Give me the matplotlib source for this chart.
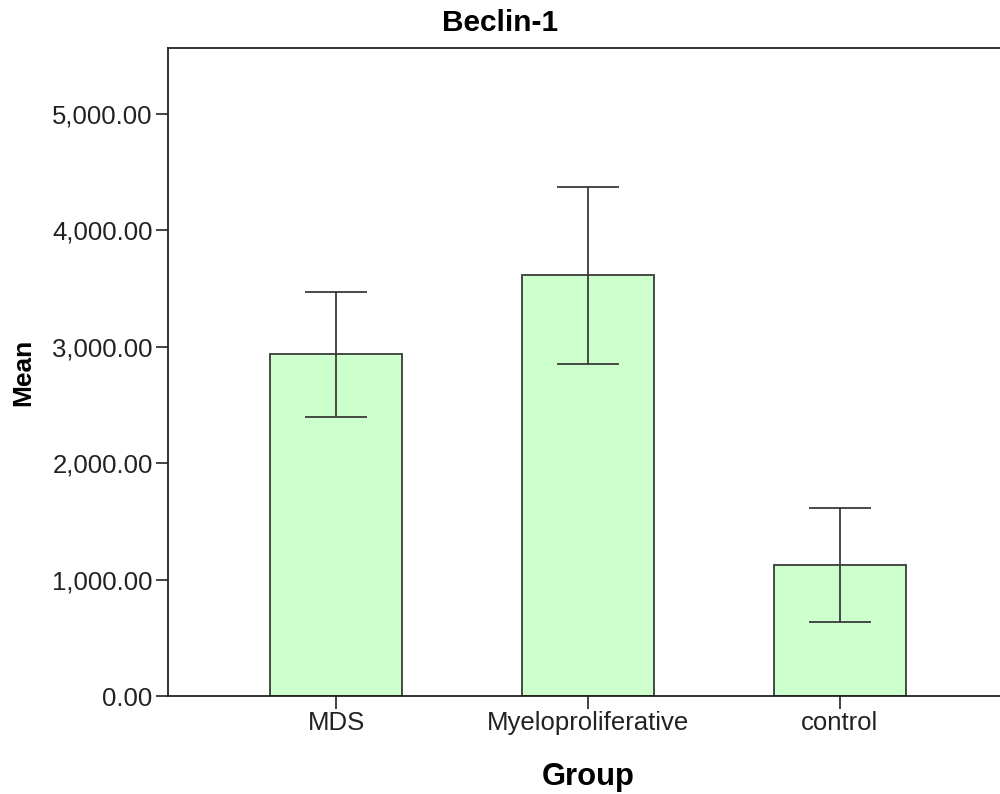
import matplotlib
matplotlib.use("Agg")
import matplotlib.pyplot as plt
from matplotlib.ticker import FuncFormatter

groups = ["MDS", "Myeloproliferative", "control"]
means = [2938, 3617, 1125]
err_low = [2397, 2852, 636]
err_high = [3470, 4373, 1615]
yticks = [0, 1000, 2000, 3000, 4000, 5000]

plt.rcParams['font.family'] = ['Liberation Sans', 'DejaVu Sans']

fig = plt.figure(figsize=(10, 7.94), dpi=100)
ax = fig.add_axes([0.168, 1 - 696 / 794, 0.84, 648 / 794])

x = list(range(len(groups)))
ax.bar(x, means, width=0.524, color="#CCFFCC", edgecolor="#3a3a3a", linewidth=1.3, zorder=2)
yerr = [[m - lo for m, lo in zip(means, err_low)], [hi - m for m, hi in zip(means, err_high)]]
ax.errorbar(x, means, yerr=yerr, fmt="none", ecolor="#3a3a3a", elinewidth=1.3,
            capsize=22.3, capthick=1.3, zorder=3)

ax.set_xlim(-0.6667, 2.6667)
ax.set_ylim(0, 5567)
ax.set_xticks(x)
ax.set_xticklabels(groups)
ax.set_yticks(yticks)
ax.yaxis.set_major_formatter(FuncFormatter(lambda v, p: f"{v:,.2f}"))

ax.tick_params(axis="both", direction="out", length=9, width=1.2, color="#222222",
               labelsize=18.5, labelcolor="#222222", pad=2)
for s in ["top", "left", "bottom"]:
    ax.spines[s].set_color("#222222")
    ax.spines[s].set_linewidth(1.3)
ax.spines["right"].set_visible(False)

ax.set_xlabel("Group", fontsize=22.3, fontweight="bold", labelpad=19)
ax.set_ylabel("Mean", fontsize=19, fontweight="bold", labelpad=12)
fig.text(0.5, 1 - 23 / 794, "Beclin-1", fontsize=21.5, fontweight="bold",
         ha="center", va="center")

fig.savefig("out.png", dpi=100)
